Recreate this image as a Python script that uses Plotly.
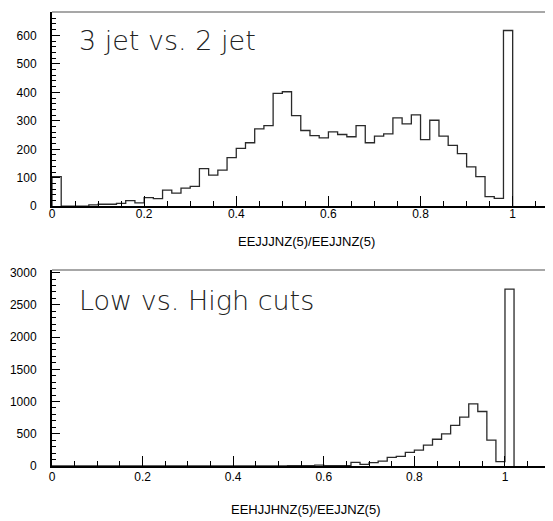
import plotly.graph_objects as go

# ---- data (bin width 0.02, counts) ----
bin_width = 0.02
# top panel: 50 bins from 0.00 to 1.00
counts_3jet_vs_2jet = [
    104, 0, 0, 0, 5, 7, 7, 10, 20, 12,
    30, 27, 57, 46, 64, 70, 132, 109, 127, 171,
    203, 223, 272, 283, 396, 402, 318, 266, 248, 240,
    261, 252, 244, 283, 223, 246, 254, 310, 289, 321,
    234, 302, 246, 214, 185, 138, 104, 34, 28, 617,
]
# bottom panel: 51 bins from 0.00 to 1.02
counts_low_vs_high = [
    0, 0, 0, 0, 0, 0, 0, 0, 0, 0,
    0, 0, 0, 0, 0, 0, 0, 0, 2, 2,
    2, 2, 2, 3, 3, 3, 5, 5, 5, 15,
    5, 5, 5, 56, 26, 51, 77, 133, 149, 210,
    246, 323, 415, 497, 631, 759, 964, 846, 400, 67,
    2744,
]
x_ticks = [0, 0.2, 0.4, 0.6, 0.8, 1]
x_tick_labels = ["0", "0.2", "0.4", "0.6", "0.8", "1"]
y_ticks_top = [0, 100, 200, 300, 400, 500, 600]
y_ticks_bottom = [0, 500, 1000, 1500, 2000, 2500, 3000]
title_top = "3 jet vs. 2 jet"
title_bottom = "Low vs. High cuts"
xlabel_top = "EEJJJNZ(5)/EEJJNZ(5)"
xlabel_bottom = "EEHJJHNZ(5)/EEJJNZ(5)"


def step_xy(counts):
    xs = [0.0]
    ys = [0]
    for i, c in enumerate(counts):
        xs.append(round(i * bin_width, 4))
        ys.append(c)
    xs.append(round(len(counts) * bin_width, 4))
    ys.append(0)
    return xs, ys


fig = go.Figure()
x1, y1 = step_xy(counts_3jet_vs_2jet)
x2, y2 = step_xy(counts_low_vs_high)
line_style = dict(color="#2a2a2a", width=1.3, shape="hv")
fig.add_trace(go.Scatter(x=x1, y=y1, mode="lines", line=line_style,
                         xaxis="x", yaxis="y", showlegend=False, hoverinfo="skip"))
fig.add_trace(go.Scatter(x=x2, y=y2, mode="lines", line=line_style,
                         xaxis="x2", yaxis="y2", showlegend=False, hoverinfo="skip"))

tick_font = dict(family="Liberation Sans, Arial, sans-serif", size=12, color="black")

common_x = dict(
    showline=True, linecolor="black", linewidth=2, showgrid=False, zeroline=False,
    ticks="inside", ticklen=10, tickwidth=1, tickcolor="black",
    tickvals=x_ticks, ticktext=x_tick_labels, tickfont=tick_font,
    minor=dict(ticks="inside", ticklen=5, tickwidth=1, tickcolor="black", dtick=0.05, tick0=0),
)
common_y = dict(
    showline=True, linecolor="black", linewidth=2, showgrid=False, zeroline=False,
    ticks="inside", ticklen=8, tickwidth=1, tickcolor="black", tickfont=tick_font,
    ticklabelstandoff=11,
)

fig.update_layout(
    width=545, height=513,
    margin=dict(l=44, r=0, t=0, b=55),
    paper_bgcolor="white", plot_bgcolor="white",
    xaxis=dict(common_x, domain=[0, 0.994], range=[0, 1.081], anchor="y",
               ticklabelstandoff=-5),
    yaxis=dict(common_y, domain=[0.5721, 1.0], range=[0, 682], anchor="x",
               tickvals=y_ticks_top,
               minor=dict(ticks="inside", ticklen=4, tickwidth=1, tickcolor="black", dtick=20, tick0=0)),
    xaxis2=dict(common_x, domain=[0, 1.0], range=[0, 1.106], anchor="y2",
                ticklabelstandoff=-1),
    yaxis2=dict(common_y, domain=[0, 0.4317], range=[0, 3041], anchor="x2",
                tickvals=y_ticks_bottom,
                minor=dict(ticks="inside", ticklen=4, tickwidth=1, tickcolor="black", dtick=100, tick0=0)),
)

# gray top frame lines
for xr, yr in (("x domain", "y domain"), ("x2 domain", "y2 domain")):
    fig.add_shape(type="line", xref=xr, yref=yr, x0=0, x1=1, y0=1, y1=1,
                  line=dict(color="#8a8a8a", width=1.5))

title_font = dict(family="DejaVu Sans", weight=200, size=27, color="#222")
label_font = dict(family="Liberation Sans, Arial, sans-serif", size=13, color="black")
fig.add_annotation(text=title_top, xref="paper", yref="paper", x=0.0499, y=0.9366,
                   xanchor="left", yanchor="middle", showarrow=False, font=title_font)
fig.add_annotation(text=title_bottom, xref="paper", yref="paper", x=0.0499, y=0.3635,
                   xanchor="left", yanchor="middle", showarrow=False, font=title_font)
fig.add_annotation(text=xlabel_top, xref="paper", yref="paper", x=0.507, y=0.4945,
                   xanchor="center", yanchor="middle", showarrow=False, font=label_font)
fig.add_annotation(text=xlabel_bottom, xref="paper", yref="paper", x=0.507, y=-0.0961,
                   xanchor="center", yanchor="middle", showarrow=False, font=label_font)

fig.write_html("out.html")
